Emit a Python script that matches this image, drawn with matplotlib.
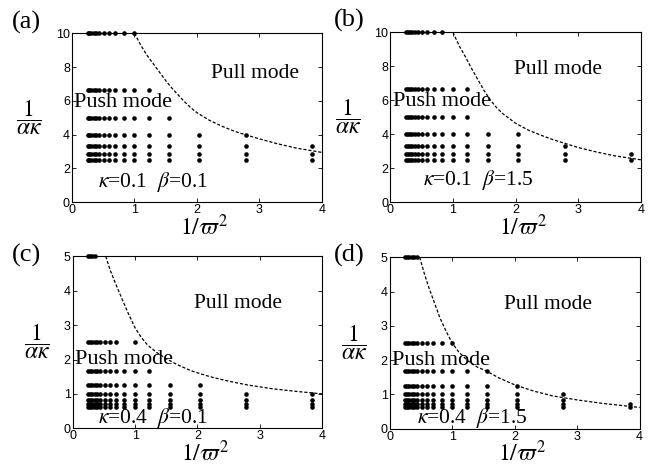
import matplotlib
matplotlib.use("Agg")
import matplotlib.pyplot as plt

plt.rcParams['font.family'] = ['Liberation Serif', 'DejaVu Serif']
plt.rcParams['mathtext.fontset'] = 'stix'

# x positions of the sampled 1/varpi^2 values
omega_x = [0.25, 0.28, 0.31, 0.35, 0.39, 0.44, 0.51, 0.59, 0.69, 0.83,
           1.00, 1.23, 1.56, 2.04, 2.78, 3.84]

# rows of 1/(alpha kappa) and how many x samples are push mode in each row
rows_k01 = [10, 6.67, 5, 4, 3.33, 2.86, 2.5]
count_a = [11, 12, 13, 15, 16, 16, 16]
count_b = [10, 12, 12, 14, 15, 16, 16]

rows_k04 = [5, 2.5, 1.67, 1.25, 1.0, 0.83, 0.71, 0.625]
count_c = [4, 11, 12, 14, 16, 16, 16, 16]
count_d = [6, 11, 13, 14, 15, 15, 16, 16]
gaps_c = [(1, 9)]   # (row, x index) missing
gaps_d = []

# boundary curves
curve_a_x = [1.0, 1.1, 1.2, 1.3, 1.4, 1.5, 1.6, 1.7, 1.8, 1.9, 2.0, 2.2, 2.4,
             2.6, 2.8, 3.0, 3.3, 3.6, 4.0]
curve_a_y = [10, 9.3, 8.7, 8.2, 7.7, 7.2, 6.75, 6.35, 5.95, 5.6, 5.3, 4.85, 4.5,
             4.2, 3.97, 3.75, 3.45, 3.2, 2.95]
curve_b_x = [1.0, 1.1, 1.2, 1.3, 1.4, 1.5, 1.6, 1.7, 1.8, 2.0, 2.2, 2.4, 2.6,
             2.8, 3.0, 3.3, 3.6, 4.0]
curve_b_y = [10, 9.2, 8.55, 7.85, 7.2, 6.55, 6.0, 5.55, 5.2, 4.65, 4.25, 3.95, 3.68,
             3.45, 3.22, 2.95, 2.72, 2.5]
curve_c_x = [0.53, 0.6, 0.7, 0.8, 0.9, 1.0, 1.1, 1.2, 1.35, 1.5, 1.7, 1.9, 2.2,
             2.5, 2.8, 3.2, 3.6, 4.0]
curve_c_y = [5.0, 4.6, 4.15, 3.72, 3.3, 2.92, 2.64, 2.42, 2.2, 2.02, 1.83, 1.67, 1.5,
             1.37, 1.26, 1.15, 1.07, 1.0]
curve_d_x = [0.48, 0.55, 0.62, 0.7, 0.8, 0.9, 1.0, 1.1, 1.25, 1.4, 1.55, 1.75, 2.0,
             2.3, 2.6, 3.0, 3.4, 3.8, 4.0]
curve_d_y = [5.0, 4.55, 4.15, 3.75, 3.25, 2.85, 2.5, 2.25, 1.98, 1.8, 1.68, 1.48, 1.28,
             1.1, 0.96, 0.84, 0.74, 0.66, 0.62]

panels = [
    dict(tag='(a)', rows=rows_k01, counts=count_a, gaps=[], cx=curve_a_x, cy=curve_a_y,
         ymax=10, yticks=[0, 2, 4, 6, 8, 10], pos=[0.1104, 0.5659, 0.3834, 0.3627],
         label=r'$\kappa$=0.1  $\beta$=0.1', pull=(2.93, 7.6), push=(0.04, 5.9), par=(0.42, 1.2),
         tagpos=(12, 11)),
    dict(tag='(b)', rows=rows_k01, counts=count_b, gaps=[], cx=curve_b_x, cy=curve_b_y,
         ymax=10, yticks=[0, 2, 4, 6, 8, 10], pos=[0.5986, 0.5659, 0.3845, 0.3648],
         label=r'$\kappa$=0.1  $\beta$=1.5', pull=(2.67, 7.8), push=(0.04, 5.9), par=(0.52, 1.3),
         tagpos=(334, 9)),
    dict(tag='(c)', rows=rows_k04, counts=count_c, gaps=gaps_c, cx=curve_c_x, cy=curve_c_y,
         ymax=5, yticks=[0, 1, 2, 3, 4, 5], pos=[0.1115, 0.0809, 0.3828, 0.3691],
         label=r'$\kappa$=0.4  $\beta$=0.1', pull=(2.65, 3.64), push=(0.04, 2.0), par=(0.4, 0.3),
         tagpos=(12, 244)),
    dict(tag='(d)', rows=rows_k04, counts=count_d, gaps=gaps_d, cx=curve_d_x, cy=curve_d_y,
         ymax=5, yticks=[0, 1, 2, 3, 4, 5], pos=[0.5977, 0.0800, 0.3834, 0.3679],
         label=r'$\kappa$=0.4  $\beta$=1.5', pull=(2.54, 3.62), push=(0.04, 2.0), par=(0.43, 0.3),
         tagpos=(334, 244)),
]

fig = plt.figure(figsize=(6.52, 4.66), dpi=100)

for p in panels:
    ax = fig.add_axes(p['pos'])
    for r, (yv, n) in enumerate(zip(p['rows'], p['counts'])):
        xs = [omega_x[i] for i in range(n) if (r, i) not in p['gaps']]
        ax.plot(xs, [yv] * len(xs), 'o', color='black', ms=3.3, mec='none', clip_on=False)
    ax.plot(p['cx'], p['cy'], color='black', lw=0.9, dashes=(2.5, 1.5))

    ax.set_xlim(0, 4)
    ax.set_ylim(0, p['ymax'])
    ax.set_xticks([0, 1, 2, 3, 4])
    ax.set_yticks(p['yticks'])
    ax.tick_params(direction='in', length=3, width=0.6, top=True, right=True, pad=1.5,
                   labelsize=9)
    for lab in ax.get_xticklabels() + ax.get_yticklabels():
        lab.set_family('Liberation Sans')
    for s in ax.spines.values():
        s.set_linewidth(0.8)

    ax.set_xlabel(r'$1/\varpi^2$', fontsize=17, labelpad=-4)
    ax.xaxis.set_label_coords(0.53, -0.07)
    ax.xaxis.label.set_va('top')
    ax.set_ylabel(r'$\dfrac{1}{\alpha\kappa}$', fontsize=17, rotation=0, labelpad=19,
                  va='center')

    ax.text(p['pull'][0], p['pull'][1], 'Pull mode', fontsize=15.5, ha='center', va='center')
    ax.text(p['push'][0], p['push'][1], 'Push mode', fontsize=16, ha='left', va='center')
    ax.text(p['par'][0], p['par'][1], p['label'], fontsize=15.5, ha='left', va='center')

    fig.text(p['tagpos'][0] / 652, 1 - p['tagpos'][1] / 466, p['tag'], fontsize=19,
             ha='left', va='top')

fig.savefig('out.png', dpi=100)
